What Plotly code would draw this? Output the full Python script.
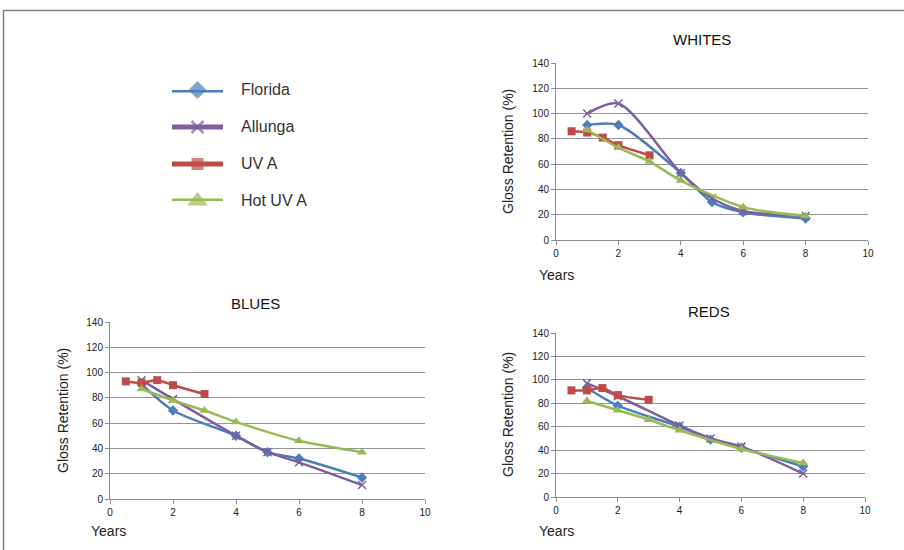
import plotly.graph_objects as go

# ---------------- data ----------------
series_names = ["Florida", "Allunga", "UV A", "Hot UV A"]
chart_titles = ["WHITES", "BLUES", "REDS"]
x_ticks = [0, 2, 4, 6, 8, 10]
y_ticks = [0, 20, 40, 60, 80, 100, 120, 140]

years_florida = [1, 2, 4, 5, 6, 8]
years_allunga = [1, 2, 4, 5, 6, 8]
years_uva = [0.5, 1, 1.5, 2, 3]
years_hotuva = [1, 2, 3, 4, 6, 8]

whites_florida = [91, 91, 53, 30, 22, 17]
whites_allunga = [100, 108, 53, 33, 23, 19]
whites_uva = [86, 85, 81, 75, 67]
whites_hotuva = [87, 73, 62, 47, 26, 19]

blues_florida = [91, 70, 50, 37, 32, 17]
blues_allunga = [94, 79, 50, 37, 29, 11]
blues_uva = [93, 92, 94, 90, 83]
blues_hotuva = [87, 78, 70, 61, 46, 37]

reds_florida = [93, 78, 60, 49, 42, 26]
reds_allunga = [97, 86, 61, 50, 43, 20]
reds_uva = [91, 91, 93, 87, 83]
reds_hotuva = [82, 74, 66, 57, 41, 29]

# ---------------- styles ----------------
colors = ["#4A7EBB", "#7D5FA0", "#BE4B48", "#98B954"]
symbols = ["diamond", "x-thin", "square", "triangle-up"]
msizes = [8, 8, 8, 9]
FONT = "Liberation Sans"
W, H = 904, 550

def px_x(p):
    return p / W

def px_y(p):
    return 1 - p / H

fig = go.Figure()

charts = [
    (chart_titles[0], [whites_florida, whites_allunga, whites_uva, whites_hotuva], "x", "y"),
    (chart_titles[1], [blues_florida, blues_allunga, blues_uva, blues_hotuva], "x2", "y2"),
    (chart_titles[2], [reds_florida, reds_allunga, reds_uva, reds_hotuva], "x3", "y3"),
]
years = [years_florida, years_allunga, years_uva, years_hotuva]

for title, vals, xa, ya in charts:
    for i in range(4):
        fig.add_trace(go.Scatter(
            x=years[i], y=vals[i], mode="lines+markers", name=series_names[i],
            xaxis=xa, yaxis=ya, showlegend=False, cliponaxis=False,
            line=dict(color=colors[i], width=2.5, shape="spline", smoothing=0.8),
            marker=dict(symbol=symbols[i], size=msizes[i], color=colors[i],
                        line=dict(color=colors[i], width=1.5 if i == 1 else 0)),
        ))

# legend drawn in its own hidden axes
for i in range(4):
    fig.add_trace(go.Scatter(
        x=[0, 0.5, 1], y=[i, i, i], mode="lines+markers", xaxis="x4", yaxis="y4",
        showlegend=False, cliponaxis=False, hoverinfo="skip",
        line=dict(color=colors[i], width=5),
        marker=dict(symbol=symbols[i], size=[0, [14, 12, 12, 18][i], 0], color=colors[i],
                    line=dict(color=colors[i], width=2.5 if i == 1 else 0)),
    ))

axis_common_x = dict(range=[0, 10], tickvals=x_ticks, showgrid=False, zeroline=False,
                     showline=True, linecolor="#8c8c8c", linewidth=1, automargin=False,
                     ticks="outside", ticklen=4, tickcolor="#8c8c8c",
                     tickfont=dict(family=FONT, size=10, color="#222"), fixedrange=True)
axis_common_y = dict(range=[0, 140], tickvals=y_ticks, showgrid=True, gridcolor="#949494",
                     gridwidth=1, zeroline=False, showline=True, linecolor="#8c8c8c",
                     linewidth=1, ticks="outside", ticklen=4, tickcolor="#8c8c8c",
                     automargin=False,
                     tickfont=dict(family=FONT, size=10, color="#222"), fixedrange=True)

fig.update_layout(
    template="none",
    width=W, height=H, margin=dict(l=0, r=0, t=0, b=0, pad=0, autoexpand=False),
    paper_bgcolor="white", plot_bgcolor="white",
    xaxis=dict(domain=[px_x(556), px_x(868)], anchor="y", **axis_common_x),
    yaxis=dict(domain=[px_y(240), px_y(63)], anchor="x", **axis_common_y),
    xaxis2=dict(domain=[px_x(110), px_x(425)], anchor="y2", **axis_common_x),
    yaxis2=dict(domain=[px_y(499), px_y(322)], anchor="x2", **axis_common_y),
    xaxis3=dict(domain=[px_x(556), px_x(865)], anchor="y3", **axis_common_x),
    yaxis3=dict(domain=[px_y(497), px_y(333)], anchor="x3", **axis_common_y),
    xaxis4=dict(domain=[px_x(172), px_x(223)], anchor="y4", range=[0, 1], visible=False,
                automargin=False),
    yaxis4=dict(domain=[px_y(201), px_y(90)], anchor="x4", range=[3, 0], visible=False,
                automargin=False),
    showlegend=False,
)

annos = []
# chart titles
for txt, cx, cy in [(chart_titles[0], 702, 39), (chart_titles[1], 255, 303), (chart_titles[2], 709, 311)]:
    annos.append(dict(text=txt, x=px_x(cx), y=px_y(cy), xref="paper", yref="paper",
                      showarrow=False, xanchor="center", yanchor="middle",
                      font=dict(family=FONT, size=15, color="#111")))
# y titles
for cx, cy in [(508, 152), (63, 411), (508, 415)]:
    annos.append(dict(text="Gloss Retention (%)", x=px_x(cx), y=px_y(cy), xref="paper",
                      yref="paper", showarrow=False, textangle=-90, xanchor="center",
                      yanchor="middle", font=dict(family=FONT, size=14, color="#222")))
# x titles
for cx, cy in [(537, 275), (89, 531), (537, 531)]:
    annos.append(dict(text="Years", x=px_x(cx), y=px_y(cy), xref="paper", yref="paper",
                      showarrow=False, xanchor="left", yanchor="middle",
                      font=dict(family=FONT, size=14, color="#222")))
# legend labels
for i, name in enumerate(series_names):
    annos.append(dict(text=name, x=px_x(239), y=i, xref="paper", yref="y4",
                      showarrow=False, xanchor="left", yanchor="middle",
                      font=dict(family=FONT, size=16, color="#333")))
fig.update_layout(annotations=annos)

# outer frame
fig.add_shape(type="rect", xref="paper", yref="paper", x0=px_x(3.5), x1=1.02,
              y0=-0.02, y1=px_y(10.5), line=dict(color="#7f7f7f", width=1.5))

fig.write_html("out.html", config={"displayModeBar": False, "staticPlot": True},
               post_script="document.body.style.margin='0';document.body.style.overflow='hidden';")
